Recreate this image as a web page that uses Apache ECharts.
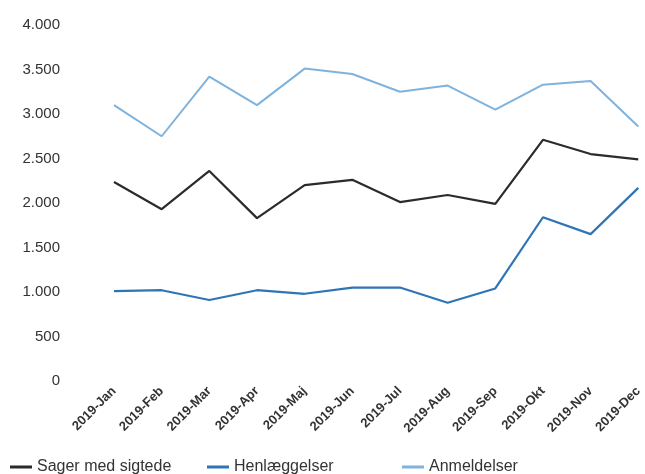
<!DOCTYPE html>
<html><head><meta charset="utf-8">
<script src="https://cdn.jsdelivr.net/npm/echarts@6/dist/echarts.min.js"></script>
<style>html,body{margin:0;padding:0;background:#fff}#c{width:645px;height:474px}</style>
</head><body><div id="c"></div>
<script>
var categories = ['2019-Jan','2019-Feb','2019-Mar','2019-Apr','2019-Maj','2019-Jun','2019-Jul','2019-Aug','2019-Sep','2019-Okt','2019-Nov','2019-Dec'];
var sager = [2236,1930,2360,1830,2200,2260,2010,2090,1990,2710,2550,2490];
var henlaeggelser = [1010,1020,910,1020,980,1050,1050,880,1040,1840,1650,2170];
var anmeldelser = [3100,2750,3420,3100,3510,3450,3250,3320,3050,3330,3370,2860];
var names = ['Sager med sigtede','Henlæggelser','Anmeldelser'];
var colors = ['#2b2b2b','#2e75b6','#7fb3dd'];
var font = 'Liberation Sans, Arial, sans-serif';
var chart = echarts.init(document.getElementById('c'));
function fmt(v){return String(v).replace(/\B(?=(\d{3})+(?!\d))/g,'.');}
function leg(i,left){return {data:[names[i]],left:left,top:454,icon:'rect',itemWidth:22,itemHeight:3,itemGap:0,textStyle:{fontFamily:font,fontSize:16,color:'#333'}};}
chart.setOption({
  animation:false,
  color:colors,
  legend:[leg(0,5),leg(1,202),leg(2,397)],
  grid:{left:114,right:4,top:25,bottom:93},
  xAxis:{type:'category',data:categories,boundaryGap:false,
    axisLine:{show:false},axisTick:{show:false},
    axisLabel:{rotate:45,margin:8,fontFamily:font,fontSize:13,fontWeight:'bold',color:'#333'}},
  yAxis:{type:'value',min:0,max:4000,interval:500,
    splitLine:{show:false},axisLine:{show:false},axisTick:{show:false},
    axisLabel:{margin:54,fontFamily:font,fontSize:15,color:'#333',formatter:fmt}},
  series:[
    {name:names[0],type:'line',data:sager,symbol:'none',lineStyle:{width:2.2,color:colors[0]}},
    {name:names[1],type:'line',data:henlaeggelser,symbol:'none',lineStyle:{width:2.2,color:colors[1]}},
    {name:names[2],type:'line',data:anmeldelser,symbol:'none',lineStyle:{width:2,color:colors[2]}}
  ]
});
</script></body></html>
